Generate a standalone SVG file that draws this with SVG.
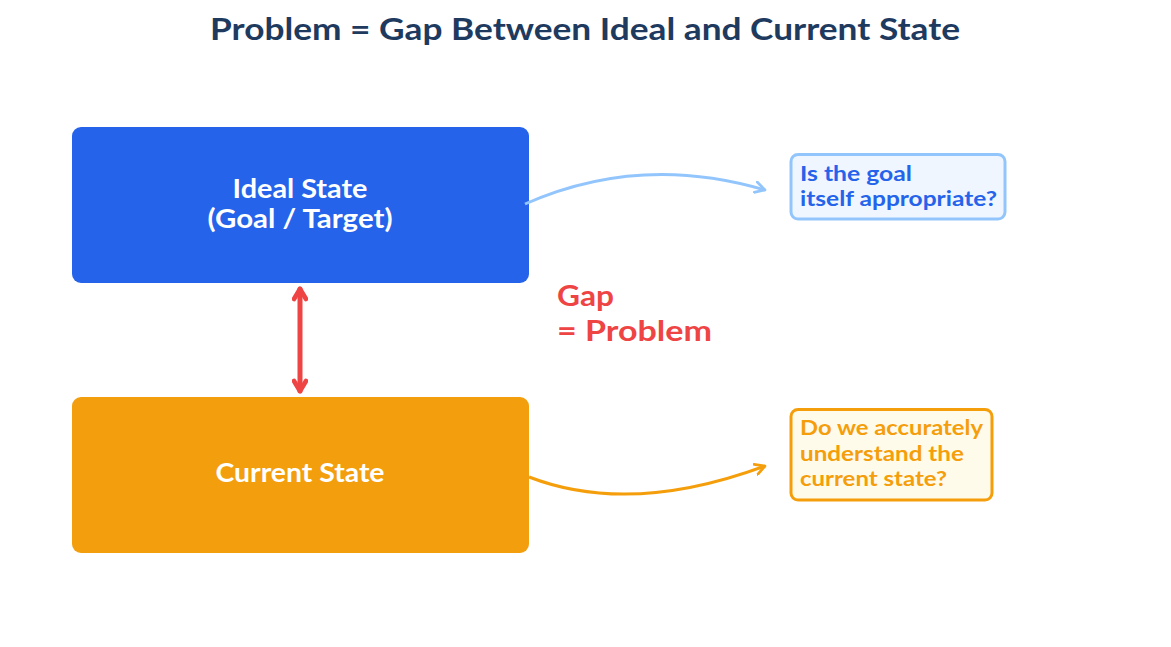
<svg xmlns="http://www.w3.org/2000/svg" width="1171" height="647" viewBox="0 0 1171 647">
<style>
text{font-family:Lato,"Open Sans","DejaVu Sans",sans-serif;font-weight:bold}
.title{font-size:31px;fill:#1E3A5F;text-anchor:middle}
.main{font-size:26px;fill:#ffffff;text-anchor:middle}
.gap{font-size:29px;fill:#EF4444}
.q1{font-size:21px;fill:#2563EB}
.q2{font-size:21px;fill:#F59E0B}
</style>
<defs>
<marker id="ab" viewBox="0 0 12 12" refX="10" refY="6" markerWidth="13" markerHeight="13" markerUnits="userSpaceOnUse" orient="auto"><path d="M1,1 L10,6 L1,11" fill="none" stroke="#93C5FD" stroke-width="2.5" stroke-linecap="round" stroke-linejoin="round"/></marker>
<marker id="ao" viewBox="0 0 12 12" refX="10" refY="6" markerWidth="13" markerHeight="13" markerUnits="userSpaceOnUse" orient="auto"><path d="M1,1 L10,6 L1,11" fill="none" stroke="#F59E0B" stroke-width="2.5" stroke-linecap="round" stroke-linejoin="round"/></marker>
<marker id="ar" viewBox="0 0 12 12" refX="10" refY="6" markerWidth="16" markerHeight="16" markerUnits="userSpaceOnUse" orient="auto-start-reverse"><path d="M2.5,1.5 L10,6 L2.5,10.5" fill="none" stroke="#EF4444" stroke-width="3.5" stroke-linecap="round" stroke-linejoin="round"/></marker>
</defs>
<text class="title" x="585" y="40" textLength="750" lengthAdjust="spacingAndGlyphs">Problem = Gap Between Ideal and Current State</text>
<g id="ideal">
<rect x="72" y="127" width="457" height="156" rx="9" fill="#2563EB"/>
<text class="main" x="300" y="198" textLength="135" lengthAdjust="spacingAndGlyphs">Ideal State</text>
<text class="main" x="300" y="228" textLength="185" lengthAdjust="spacingAndGlyphs">(Goal / Target)</text>
</g>
<g id="current">
<rect x="72" y="397" width="457" height="156" rx="9" fill="#F39E0C"/>
<text class="main" x="300" y="482" textLength="169" lengthAdjust="spacingAndGlyphs">Current State</text>
</g>
<g id="gap-label">
<text class="gap" x="557" y="306" textLength="57" lengthAdjust="spacingAndGlyphs">Gap</text>
<text class="gap" x="557" y="341" textLength="155" lengthAdjust="spacingAndGlyphs">= Problem</text>
</g>
<g id="q-goal">
<rect x="791" y="154.5" width="214" height="64.5" rx="7" fill="#EFF6FF" stroke="#93C5FD" stroke-width="3"/>
<text class="q1" x="800" y="181" textLength="112" lengthAdjust="spacingAndGlyphs">Is the goal</text>
<text class="q1" x="800" y="206" textLength="197" lengthAdjust="spacingAndGlyphs">itself appropriate?</text>
</g>
<g id="q-current">
<rect x="791" y="409.5" width="201" height="90.5" rx="7" fill="#FFFBEB" stroke="#F59E0B" stroke-width="3"/>
<text class="q2" x="800" y="435" textLength="183" lengthAdjust="spacingAndGlyphs">Do we accurately</text>
<text class="q2" x="800" y="461" textLength="164" lengthAdjust="spacingAndGlyphs">understand the</text>
<text class="q2" x="800" y="486" textLength="147" lengthAdjust="spacingAndGlyphs">current state?</text>
</g>
<g id="connectors">
<path d="M525,204 Q640,153 765,190" fill="none" stroke="#93C5FD" stroke-width="3" marker-end="url(#ab)"/>
<path d="M529,477 Q630,516 765,466" fill="none" stroke="#F59E0B" stroke-width="3" marker-end="url(#ao)"/>
<line x1="300" y1="289" x2="300" y2="391" stroke="#EF4444" stroke-width="5" stroke-linecap="round" marker-start="url(#ar)" marker-end="url(#ar)"/>
</g>
</svg>
